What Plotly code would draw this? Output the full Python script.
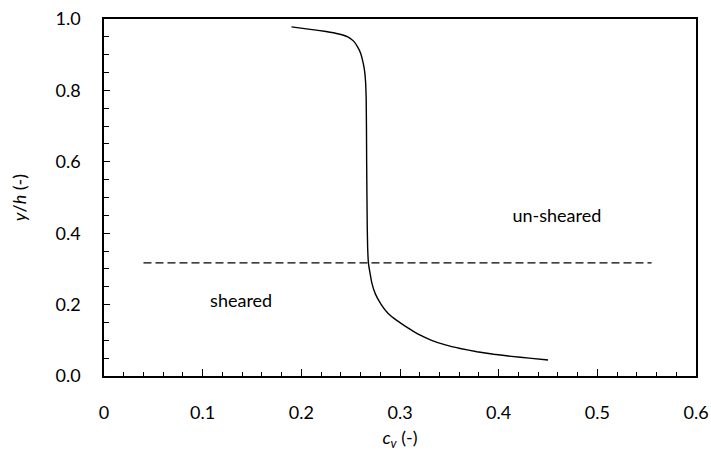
import plotly.graph_objects as go

cv = [0.190, 0.209, 0.225, 0.238, 0.247, 0.253, 0.257, 0.260, 0.262, 0.2635, 0.2645, 0.2652, 0.2657,
      0.2660, 0.2662, 0.2665, 0.2668, 0.2672, 0.2680, 0.2695, 0.2715, 0.2750, 0.2810, 0.2880,
      0.2970, 0.3080, 0.3200, 0.3320, 0.3460, 0.3610, 0.3780, 0.3950, 0.4130, 0.4310, 0.4500]
yh = [0.978, 0.971, 0.965, 0.958, 0.950, 0.938, 0.922, 0.905, 0.885, 0.865, 0.845, 0.820, 0.780,
      0.700, 0.600, 0.500, 0.420, 0.360, 0.317, 0.290, 0.260, 0.230, 0.200, 0.175,
      0.155, 0.135, 0.115, 0.100, 0.087, 0.077, 0.068, 0.061, 0.055, 0.050, 0.045]

interface_x = [0.04, 0.555]
interface_y = [0.317, 0.317]

labels = ["sheared", "un-sheared"]
label_x = [0.139, 0.459]
label_y = [0.207, 0.444]

FONT = "Lato"

fig = go.Figure()
fig.add_trace(go.Scatter(x=cv, y=yh, mode="lines", line=dict(color="black", width=1.4, shape="spline", smoothing=0.3),
                         showlegend=False, hoverinfo="skip"))
fig.add_trace(go.Scatter(x=interface_x, y=interface_y, mode="lines",
                         line=dict(color="black", width=1.2, dash="8px,4px"), showlegend=False, hoverinfo="skip"))
fig.add_trace(go.Scatter(x=label_x, y=label_y, mode="text", text=labels,
                         textfont=dict(family=FONT, size=18, color="black"), showlegend=False, hoverinfo="skip"))

fig.update_layout(
    width=711, height=451,
    margin=dict(l=104, r=15, t=19, b=75),
    paper_bgcolor="white", plot_bgcolor="white",
    font=dict(family=FONT, size=18, color="black"),
    xaxis=dict(
        range=[0, 0.6], showgrid=False, zeroline=False, automargin=False,
        showline=True, linecolor="black", linewidth=1.5, mirror=True,
        ticks="inside", ticklen=7, tickwidth=1, tickcolor="black",
        tickvals=[0, 0.1, 0.2, 0.3, 0.4, 0.5, 0.6],
        ticktext=["0", "0.1", "0.2", "0.3", "0.4", "0.5", "0.6"],
        ticklabelstandoff=20,
        minor=dict(ticks="inside", dtick=0.02, tick0=0, ticklen=4, tickcolor="black", tickwidth=1, showgrid=False),
        title=dict(text="<i>c</i><sub><i>v</i></sub> (-)", standoff=10, font=dict(family=FONT, size=18)),
    ),
    yaxis=dict(
        range=[0, 1.0], dtick=0.2, tick0=0, showgrid=False, zeroline=False, automargin=False,
        showline=True, linecolor="black", linewidth=1.5, mirror=True,
        ticks="inside", ticklen=6, tickwidth=1, tickcolor="black",
        tickformat=".1f", ticklabelstandoff=18,
        minor=dict(ticks="inside", dtick=0.05, tick0=0, ticklen=5, tickcolor="black", tickwidth=1, showgrid=False),
        title=dict(text="<i>y</i>/<i>h</i> (-)", standoff=24, font=dict(family=FONT, size=18)),
    ),
)

fig.write_html("out.html")
